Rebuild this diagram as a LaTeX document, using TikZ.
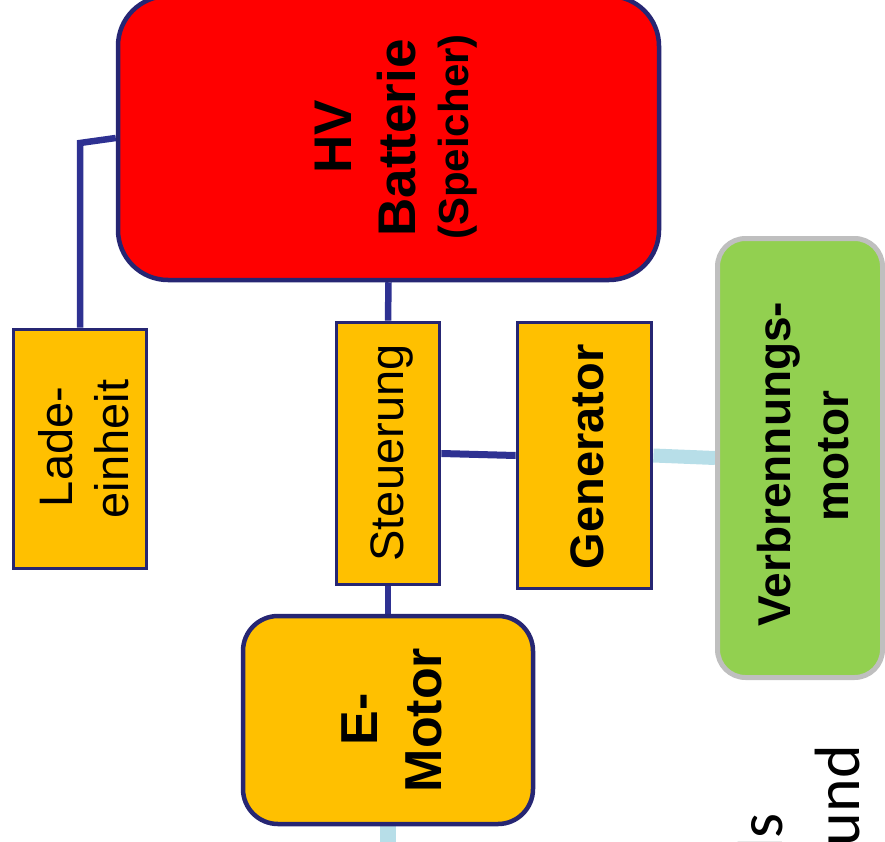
\documentclass[tikz,border=0pt]{standalone}
\usepackage{fontspec}
\setmainfont{Liberation Sans}
\newfontfamily\calibfont{Carlito}
\usetikzlibrary{backgrounds}
\definecolor{navyb}{HTML}{262673}
\definecolor{navyl}{HTML}{2E3192}
\definecolor{orng}{HTML}{FFC000}
\definecolor{grn}{HTML}{92D050}
\definecolor{grayb}{HTML}{BFBFBF}
\definecolor{lblue}{HTML}{B7DEE8}
\tikzset{
  box/.style={draw=navyb, fill=orng, line width=3.8pt, inner sep=0pt, rectangle},
  rbox/.style={box, line width=4.5pt},
  lbl/.style={rotate=90, anchor=base, inner sep=0pt, text=black},
  conn/.style={draw=navyl, line width=6.5pt},
  mech/.style={draw=lblue, line width=14pt},
}
\newcommand{\fs}[1]{\fontsize{#1}{#1}\selectfont}
\begin{document}
\begin{tikzpicture}[x=1pt, y=-1pt]
\useasboundingbox (0,0) rectangle (885,842);
% boxes
\node[rbox, fill=red, rounded corners=50pt, minimum width=541pt, minimum height=284pt] (bat) at (388.5,138) {};
\node[box, minimum width=133pt, minimum height=239pt] (lade) at (80,449) {};
\node[box, minimum width=103pt, minimum height=262pt] (steu) at (388,453.5) {};
\node[box, minimum width=134pt, minimum height=266pt] (gen) at (584.5,455.5) {};
\node[rbox, draw=grayb, fill=grn, line width=5pt, rounded corners=28pt, minimum width=165pt, minimum height=439pt] (verb) at (800,458) {};
\node[rbox, rounded corners=35pt, minimum width=290pt, minimum height=208pt] (emot) at (388,720) {};
% connectors
\coordinate (knick) at (80,143);
\coordinate (emend) at (388,850);
\begin{scope}[on background layer]
\draw[conn] (lade.north) -- (knick) -- (bat.west);
\draw[conn] (bat.south) -- (steu.north);
\draw[conn, line width=7pt] (steu.east) -- (gen.west);
\draw[conn] (steu.south) -- (emot.north);
\draw[mech] (gen.east) -- (verb.west);
\draw[mech, line width=16pt] (emot.south) -- (emend);
\end{scope}
% texts
\node[lbl, font=\bfseries\fs{53}] (t1) at (351,137) {HV};
\node[lbl, font=\bfseries\fs{53}] (t2) at (415,138) {Batterie};
\node[lbl, font=\bfseries\fs{42}] (t3) at (468,137) {(Speicher)};
\node[lbl, font=\fs{47}] (t4) at (72,447) {Lade-};
\node[lbl, font=\fs{47}] (t5) at (128,449) {einheit};
\node[lbl, font=\fs{47}] (t6) at (403,453) {Steuerung};
\node[lbl, font=\bfseries\fs{47}] (t7) at (603,457) {Generator};
\node[lbl, font=\bfseries\fs{46}] (t8) at (790,464) {Verbrennungs-};
\node[lbl, font=\bfseries\fs{46}] (t9) at (848,456) {motor};
\node[lbl, font=\bfseries\fs{52}] (t10) at (377,719) {E-};
\node[lbl, font=\bfseries\fs{52}] (t11) at (441,720) {Motor};
\node[lbl, anchor=base east, font=\calibfont\fs{64}] (t12) at (782,813) {ls};
\node[lbl, anchor=base east, font=\calibfont\fs{64}] (t13) at (859,745) {und};
\end{tikzpicture}
\end{document}
